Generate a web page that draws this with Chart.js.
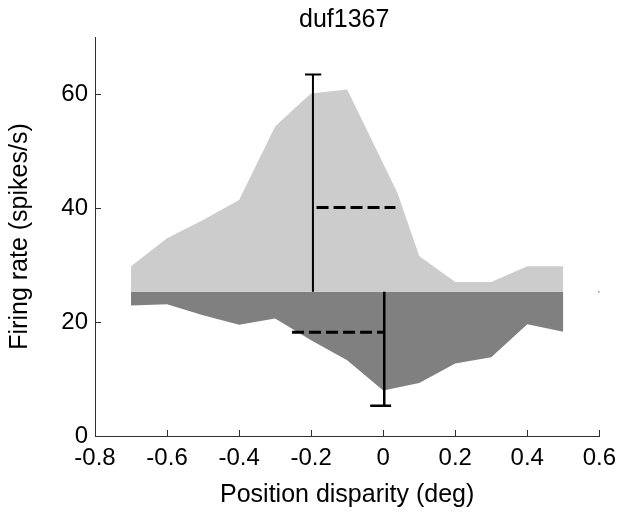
<!DOCTYPE html>
<html>
<head>
<meta charset="utf-8">
<script src="https://cdn.jsdelivr.net/npm/chart.js@4/dist/chart.umd.min.js"></script>
<style>
  html, body { margin: 0; padding: 0; background: #fff; }
  #wrap { width: 624px; height: 519px; }
</style>
</head>
<body>
<div id="wrap"><canvas id="chart" width="624" height="519"></canvas></div>
<script>
'use strict';

// ====== DATA ======
const chartTitle = 'duf1367';
const xTicks = [-0.8, -0.6, -0.4, -0.2, 0, 0.2, 0.4, 0.6];
const xTickLabels = ['-0.8', '-0.6', '-0.4', '-0.2', '0', '0.2', '0.4', '0.6'];
const yTicks = [0, 20, 40, 60];
const yTickLabels = ['0', '20', '40', '60'];

// spontaneous rate the two shaded curves hang off
const baseline = 25.3;

// light grey: response above baseline
const upperX = [-0.7, -0.6, -0.5, -0.4, -0.3, -0.23, -0.2, -0.1, 0, 0.04, 0.1, 0.2, 0.3, 0.4, 0.5];
const upperRate = [29.8, 34.7, 37.9, 41.4, 54.3, 58.4, 60.1, 60.8, 47.8, 42.6, 31.6, 27.0, 27.0, 29.8, 29.8];

// dark grey: response below baseline
const lowerX = [-0.7, -0.6, -0.5, -0.4, -0.3, -0.2, -0.1, 0, 0.1, 0.2, 0.3, 0.4, 0.5];
const lowerRate = [22.9, 23.1, 21.2, 19.5, 20.6, 16.8, 13.3, 8.0, 9.3, 12.7, 13.8, 19.6, 18.3];

// error bars (peak and trough)
const peakBarX = [-0.195, -0.195];
const peakBarY = [25.3, 63.4];
const peakCapX = [-0.217, -0.172];
const peakCapY = [63.4, 63.4];
const troughBarX = [0.003, 0.003];
const troughBarY = [25.3, 5.3];
const troughCapX = [-0.036, 0.022];
const troughCapY = [5.3, 5.3];

// dashed half-width markers
const peakDashX = [-0.185, 0.034];
const peakDashY = [40.1, 40.1];
const troughDashX = [-0.253, 0.002];
const troughDashY = [18.2, 18.2];

// stray dot at the right edge
const dotX = [0.6];
const dotY = [25.3];

// ====== HELPERS ======
const FONT = "'Liberation Sans', Arial, Helvetica, sans-serif";
const AXIS_COLOR = '#303030';

function pts(xs, ys) {
    return xs.map((x, i) => ({ x, y: ys[i] }));
}

function lineSet(xs, ys, width, dash) {
    return {
        data: pts(xs, ys),
        borderColor: '#000',
        borderWidth: width,
        borderDash: dash || [],
        pointRadius: 0,
        fill: false,
        order: 0
    };
}

// MATLAB style ticks pointing into the plot, title centred over the axes
const axesDecor = {
    id: 'axesDecor',
    afterDatasetsDraw(chart) {
        const { ctx, chartArea, scales: { x, y } } = chart;
        ctx.save();
        ctx.strokeStyle = AXIS_COLOR;
        ctx.lineWidth = 1;
        ctx.beginPath();
        xTicks.forEach(v => {
            const px = Math.round(x.getPixelForValue(v)) + 0.5;
            ctx.moveTo(px, y.bottom);
            ctx.lineTo(px, y.bottom - 6);
        });
        yTicks.forEach(v => {
            const py = Math.round(y.getPixelForValue(v)) + 0.5;
            ctx.moveTo(x.left, py);
            ctx.lineTo(x.left + 6, py);
        });
        ctx.stroke();

        ctx.fillStyle = '#000';
        ctx.font = '25px ' + FONT;
        ctx.textAlign = 'center';
        ctx.textBaseline = 'middle';
        ctx.fillText(chartTitle, (chartArea.left + chartArea.right) / 2 - 3, 20);
        ctx.restore();
    }
};

// ====== CHART ======
new Chart(document.getElementById('chart'), {
    type: 'line',
    data: {
        datasets: [
            lineSet(peakBarX, peakBarY, 2),
            lineSet(peakCapX, peakCapY, 2),
            lineSet(troughBarX, troughBarY, 2.5),
            lineSet(troughCapX, troughCapY, 2.5),
            lineSet(peakDashX, peakDashY, 3, [12, 5]),
            lineSet(troughDashX, troughDashY, 3, [12, 5]),
            {
                data: pts(dotX, dotY),
                showLine: false,
                pointRadius: 1,
                pointBackgroundColor: '#555',
                pointBorderWidth: 0,
                order: 0
            },
            {
                data: pts(upperX, upperRate),
                borderWidth: 0,
                borderColor: 'rgba(0,0,0,0)',
                backgroundColor: '#cccccc',
                pointRadius: 0,
                fill: { value: baseline },
                order: 5
            },
            {
                data: pts(lowerX, lowerRate),
                borderWidth: 0,
                borderColor: 'rgba(0,0,0,0)',
                backgroundColor: '#808080',
                pointRadius: 0,
                fill: { value: baseline },
                order: 5
            }
        ]
    },
    options: {
        responsive: false,
        animation: false,
        events: [],
        layout: { padding: { left: 0, right: 24, top: 37, bottom: 0 } },
        plugins: {
            legend: { display: false },
            tooltip: { enabled: false },
            title: { display: false }
        },
        scales: {
            x: {
                type: 'linear',
                min: -0.8,
                max: 0.6,
                afterBuildTicks: s => { s.ticks = xTicks.map(v => ({ value: v })); },
                afterFit: s => { s.height = 83; },
                grid: { display: false, drawTicks: false, tickLength: 0 },
                border: { display: true, color: AXIS_COLOR, width: 1 },
                ticks: {
                    color: '#000',
                    font: { family: FONT, size: 24 },
                    padding: 8,
                    maxRotation: 0,
                    autoSkip: false,
                    callback: (v, i) => xTickLabels[i]
                },
                title: {
                    display: true,
                    text: 'Position disparity (deg)',
                    color: '#000',
                    font: { family: FONT, size: 25 },
                    padding: { top: 0, bottom: 9 }
                }
            },
            y: {
                type: 'linear',
                min: 0,
                max: 70,
                afterBuildTicks: s => { s.ticks = yTicks.map(v => ({ value: v })); },
                afterFit: s => { s.width = 95; },
                grid: { display: false, drawTicks: false, tickLength: 0 },
                border: { display: true, color: AXIS_COLOR, width: 1 },
                ticks: {
                    color: '#000',
                    font: { family: FONT, size: 24 },
                    padding: 7,
                    callback: (v, i) => yTickLabels[i]
                },
                title: {
                    display: true,
                    text: 'Firing rate (spikes/s)',
                    color: '#000',
                    font: { family: FONT, size: 25 },
                    padding: { top: 5, bottom: 0 }
                }
            }
        }
    },
    plugins: [axesDecor]
});
</script>
</body>
</html>
